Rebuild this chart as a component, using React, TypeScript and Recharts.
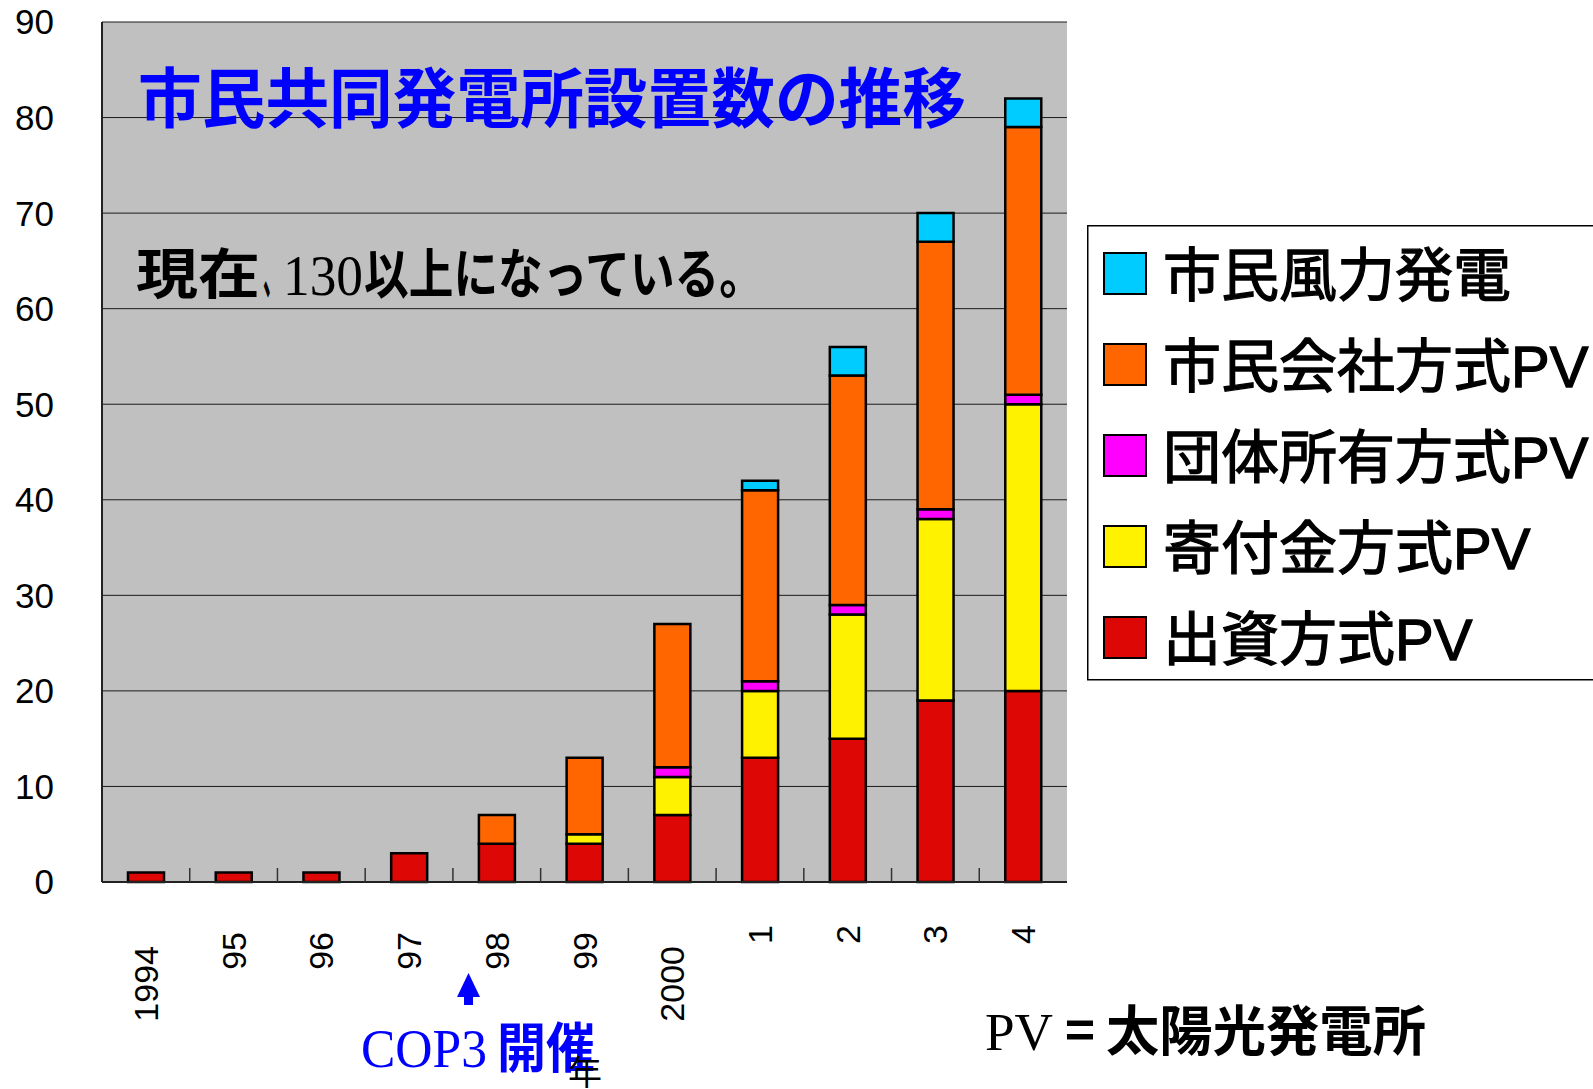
import React from 'react'
import { BarChart, Bar, XAxis, YAxis, CartesianGrid, Legend } from 'recharts'

// 年度 (1994 … 2004)
const years = ['1994', '95', '96', '97', '98', '99', '2000', '1', '2', '3', '4']

// 設置数 by type, bottom of stack first
const investPV = [1, 1, 1, 3, 4, 4, 7, 13, 15, 19, 20]
const donationPV = [0, 0, 0, 0, 0, 1, 4, 7, 13, 19, 30]
const groupPV = [0, 0, 0, 0, 0, 0, 1, 1, 1, 1, 1]
const companyPV = [0, 0, 0, 0, 3, 8, 15, 20, 24, 28, 28]
const windPower = [0, 0, 0, 0, 0, 0, 0, 1, 3, 3, 3]

const yTicks = [0, 10, 20, 30, 40, 50, 60, 70, 80, 90]

const series = [
  { key: 'invest', name: '出資方式PV', color: '#DD0806', values: investPV },
  { key: 'donation', name: '寄付金方式PV', color: '#FFF200', values: donationPV },
  { key: 'group', name: '団体所有方式PV', color: '#FF00FF', values: groupPV },
  { key: 'company', name: '市民会社方式PV', color: '#FF6600', values: companyPV },
  { key: 'wind', name: '市民風力発電', color: '#00CCFF', values: windPower },
]

const rows = years.map((year, i) => {
  const row: Record<string, string | number> = { year }
  series.forEach(s => { row[s.key] = s.values[i] })
  return row
})

const SANS = '"Liberation Sans", Arial, "Noto Sans CJK JP", sans-serif'
const CJK = '"Noto Sans CJK JP", sans-serif'
const SERIF = '"Liberation Serif", "Times New Roman", serif'

type TickProps = {
  x?: number
  y?: number
  width?: number
  index?: number
  visibleTicksCount?: number
  payload?: { value: string }
}

// rotated year label, plus the small inner tick on the category boundary to its right
const YearTick = ({ x = 0, y = 0, width, index = 0, visibleTicksCount, payload }: TickProps) => {
  const label = String(payload?.value ?? '')
  const top = y + 36 + 7 * label.length
  const band = width && visibleTicksCount ? width / visibleTicksCount : 0
  const showBoundary = band > 0 && visibleTicksCount !== undefined && index < visibleTicksCount - 1
  return (
    <g>
      {showBoundary && (
        <line x1={x + band / 2} x2={x + band / 2} y1={y} y2={y - 14} stroke="#333" strokeWidth={1.5} />
      )}
      <text
        x={x}
        y={top}
        transform={`rotate(-90 ${x} ${top})`}
        textAnchor="end"
        dominantBaseline="central"
        fontSize={34}
        fontFamily={SANS}
        fill="#000"
      >
        {label}
      </text>
    </g>
  )
}

const LegendBox = () => {
  const ordered = [...series].reverse()
  return (
    <svg width={520} height={460} style={{ display: 'block', overflow: 'visible' }}>
      <rect x={0.75} y={0.75} width={560} height={454} fill="#fff" stroke="#000" strokeWidth={1.5} />
      {ordered.map((s, i) => (
        <g key={s.key}>
          <rect x={17} y={28 + i * 91} width={42} height={41} fill={s.color} stroke="#000" strokeWidth={2} />
          <text
            x={76}
            y={71 + i * 91}
            fontSize={58}
            fontFamily={SANS}
            fill="#000"
            stroke="#000"
            strokeWidth={1.3}
          >
            {s.name}
          </text>
        </g>
      ))}
    </svg>
  )
}

export default function App() {
  return (
    <div style={{ position: 'absolute', left: 0, top: 0, width: 1593, height: 1089, background: '#fff', overflow: 'hidden' }}>
      <BarChart
        width={1593}
        height={1089}
        data={rows}
        margin={{ top: 22, right: 526, bottom: 0, left: 0 }}
        barSize={36}
      >
        <CartesianGrid vertical={false} fill="#C0C0C0" stroke="#1a1a1a" strokeWidth={1} />
        <XAxis
          dataKey="year"
          interval={0}
          tick={<YearTick />}
          tickLine={false}
          tickSize={0}
          tickMargin={0}
          axisLine={{ stroke: '#222', strokeWidth: 2 }}
          height={207}
        />
        <XAxis
          xAxisId="top"
          orientation="top"
          type="number"
          domain={[0, years.length]}
          tick={false}
          tickLine={false}
          axisLine={{ stroke: '#707070', strokeWidth: 2 }}
          height={0}
        />
        <YAxis
          domain={[0, 90]}
          ticks={yTicks}
          width={102}
          tickLine={false}
          tickSize={0}
          tickMargin={48}
          axisLine={{ stroke: '#222', strokeWidth: 2 }}
          tick={{ fontSize: 35, fill: '#000', fontFamily: SANS }}
        />
        <YAxis
          yAxisId="edge"
          orientation="right"
          domain={[0, 90]}
          width={0}
          tick={false}
          tickLine={false}
          axisLine={{ stroke: '#8a8a8a', strokeWidth: 3 }}
        />
        <Legend
          layout="horizontal"
          align="center"
          verticalAlign="middle"
          wrapperStyle={{ left: 1087, top: 225, width: 520, height: 460 }}
          content={<LegendBox />}
        />
        {series.map(s => (
          <Bar
            key={s.key}
            dataKey={s.key}
            name={s.name}
            stackId="total"
            fill={s.color}
            stroke="#000"
            strokeWidth={2.5}
            isAnimationActive={false}
          />
        ))}
      </BarChart>

      <svg
        width={1593}
        height={1089}
        style={{ position: 'absolute', left: 0, top: 0, pointerEvents: 'none' }}
      >
        <text x={138} y={122} fontSize={65} fontWeight="bold" fill="#0000FF" fontFamily={CJK} textLength={828} lengthAdjust="spacingAndGlyphs">
          市民共同発電所設置数の推移
        </text>

        <text x={136} y={294} fontSize={54} fontWeight="bold" fill="#000" fontFamily={CJK} textLength={124} lengthAdjust="spacingAndGlyphs">
          現在
        </text>
        <text x={263} y={294} fontSize={54} fontWeight="bold" fill="#000" fontFamily={CJK} textLength={19} lengthAdjust="spacingAndGlyphs">
          、
        </text>
        <text x={283} y={295} fontSize={57} fill="#000" fontFamily={SERIF} textLength={80} lengthAdjust="spacingAndGlyphs">
          130
        </text>
        <text x={364} y={294} fontSize={54} fontWeight="bold" fill="#000" fontFamily={CJK} textLength={400} lengthAdjust="spacingAndGlyphs">
          以上になっている。
        </text>

        <polygon points="457,997 480,997 468.5,973" fill="#0000FF" />
        <rect x={464} y={996} width={9} height={9} fill="#0000FF" />
        <text x={361} y={1067} fontSize={55} fill="#0000FF" fontFamily={SERIF} textLength={126} lengthAdjust="spacingAndGlyphs">
          COP3
        </text>
        <text x={497} y={1068} fontSize={54} fontWeight="bold" fill="#0000FF" fontFamily={CJK} textLength={98} lengthAdjust="spacingAndGlyphs">
          開催
        </text>
        <text x={568} y={1085} fontSize={34} fill="#000" fontFamily={CJK}>
          年
        </text>

        <text x={985} y={1050} fontSize={53} fill="#000" fontFamily={SERIF} textLength={68} lengthAdjust="spacingAndGlyphs">
          PV
        </text>
        <text x={1065} y={1050} fontSize={53} fontWeight="bold" fill="#000" fontFamily={CJK} textLength={30} lengthAdjust="spacingAndGlyphs">
          =
        </text>
        <text x={1106} y={1051} fontSize={54} fontWeight="bold" fill="#000" fontFamily={CJK} textLength={320} lengthAdjust="spacingAndGlyphs">
          太陽光発電所
        </text>
      </svg>
    </div>
  )
}
